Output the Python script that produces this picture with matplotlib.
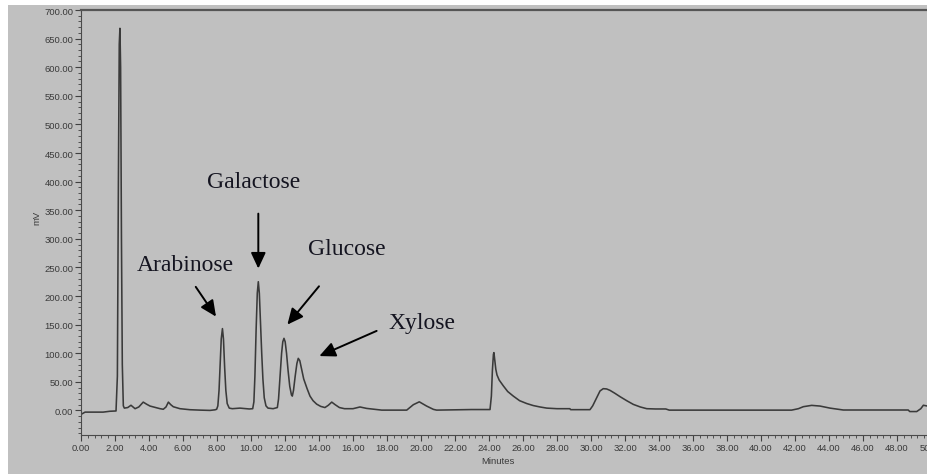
import matplotlib
matplotlib.use("Agg")
import matplotlib.pyplot as plt
from matplotlib.patches import Rectangle
from matplotlib.ticker import MultipleLocator, FormatStrFormatter

# ---- data (time in minutes, signal in mV) ----
time_min = [0.0, 0.24, 1.3, 1.7, 2.06, 2.14, 2.20, 2.25, 2.29, 2.33, 2.38, 2.43, 2.49, 2.55,
            2.75, 2.94, 3.18, 3.40, 3.66, 3.85, 4.06, 4.40, 4.65, 4.84, 5.00, 5.14, 5.28, 5.43,
            5.82, 6.41, 7.00, 7.59, 7.88, 7.98, 8.05, 8.12, 8.18, 8.25, 8.32, 8.38, 8.45, 8.52,
            8.60, 8.72, 8.90, 9.35, 9.90, 10.10, 10.17, 10.23, 10.30, 10.37, 10.43, 10.49,
            10.56, 10.63, 10.70, 10.78, 10.88, 11.00, 11.30, 11.55, 11.62, 11.71, 11.80, 11.87,
            11.94, 12.01, 12.09, 12.18, 12.28, 12.38, 12.43, 12.50, 12.60, 12.70, 12.78, 12.87,
            12.98, 13.10, 13.30, 13.47, 13.65, 13.86, 14.10, 14.35, 14.55, 14.75, 14.95, 15.20,
            15.50, 16.00, 16.41, 16.80, 17.69, 19.16, 19.55, 19.90, 20.33, 20.73, 20.92, 22.98,
            24.06, 24.14, 24.20, 24.26, 24.29, 24.34, 24.40, 24.47, 24.60, 24.84, 25.10, 25.43,
            25.80, 26.22, 26.60, 27.00, 27.40, 28.00, 28.76, 28.80, 29.94, 30.10, 30.33, 30.53,
            30.72, 30.92, 31.12, 31.40, 31.71, 32.10, 32.49, 32.90, 33.28, 33.80, 34.40, 34.60,
            41.80, 42.20, 42.49, 42.98, 43.47, 44.06, 44.84, 48.66, 48.75, 49.16, 49.40, 49.55,
            49.90]
signal_mv = [-7, -3, -3, -1.5, -1, 60, 400, 640, 668, 600, 300, 80, 8, 4,
             5, 9, 3, 6, 14.5, 11, 7.6, 5, 3, 2, 6, 14.5, 10, 6.4,
             3, 1.2, 0.5, 0, 1, 2, 8, 35, 75, 125, 143, 125, 75, 35,
             12, 4, 3, 4, 2.5, 3, 15, 60, 140, 205, 225, 205,
             150, 100, 55, 22, 8, 4, 3, 5, 20, 60, 100, 120,
             126, 120, 100, 70, 42, 27, 25, 35, 60, 82, 91, 87,
             72, 55, 38, 25, 17, 11, 7, 5, 9, 14.5, 10, 5,
             3, 3, 6, 3.5, 0.5, 0.5, 10, 15, 7.6, 1.8, 0.5, 1.5,
             1.5, 25, 70, 98, 101, 88, 72, 62, 53, 43, 33, 25,
             17, 12, 8.5, 6, 4, 3, 3, 1.3, 1.3, 8, 22, 34,
             38, 37.5, 35, 30, 24, 17, 10.5, 6, 3, 2.5, 2.5, 0.5,
             0.5, 3, 6.5, 8.8, 7.6, 4, 0.7, 0.7, -2, -2, 3, 9,
             7]

y_ticks = [0, 50, 100, 150, 200, 250, 300, 350, 400, 450, 500, 550, 600, 650, 700]
x_ticks = [0, 2, 4, 6, 8, 10, 12, 14, 16, 18, 20, 22, 24, 26, 28, 30, 32, 34, 36, 38,
           40, 42, 44, 46, 48, 50]

peak_names = ["Arabinose", "Galactose", "Glucose", "Xylose"]
label_pos = [(6.15, 245), (10.16, 390), (15.66, 274), (20.03, 144)]
arrow_tail = [(6.75, 216), (10.43, 344), (14.0, 217), (17.39, 139)]
arrow_tip = [(7.94, 164), (10.43, 248), (12.14, 150), (14.02, 95)]

# ---- figure ----
W, H = 927, 477
fig = plt.figure(figsize=(W / 100, H / 100), dpi=100, facecolor="white")
fig.patches.append(Rectangle((8 / W, 2 / H), 1.0, (475 - 6) / H, transform=fig.transFigure,
                             facecolor="#c0c0c0", edgecolor="none", zorder=-10))

ax = fig.add_axes([81 / W, (H - 436) / H, 867 / W, (436 - 11) / H])
ax.set_zorder(5)
ax.set_facecolor("#c0c0c0")
ax.plot(time_min, signal_mv, color="#3a3a3a", lw=1.15, solid_joinstyle="round")

ax.set_xlim(0, 51)
ax.set_ylim(-43, 700)
ax.set_xticks(x_ticks)
ax.set_yticks(y_ticks)
ax.xaxis.set_major_formatter(FormatStrFormatter("%.2f"))
ax.yaxis.set_major_formatter(FormatStrFormatter("%.2f"))
ax.xaxis.set_minor_locator(MultipleLocator(0.4))
ax.yaxis.set_minor_locator(MultipleLocator(10))

for lab in ax.get_xticklabels() + ax.get_yticklabels():
    lab.set_fontfamily(["Liberation Sans", "DejaVu Sans"])
    lab.set_fontsize(6.8)
    lab.set_color("#3a3a3a")
ax.tick_params(axis="both", which="major", direction="out", length=4, width=0.8,
               color="#404040", pad=1.5)
ax.tick_params(axis="both", which="minor", direction="out", length=2.2, width=0.7,
               color="#505050")

for side in ["left", "bottom"]:
    ax.spines[side].set_color("#4a4a4a")
    ax.spines[side].set_linewidth(0.8)
ax.spines["top"].set_color("#555555")
ax.spines["top"].set_linewidth(1.6)
ax.spines["right"].set_visible(False)

ax.set_xlabel("Minutes", fontsize=6.8, color="#3a3a3a", family=["Liberation Sans", "DejaVu Sans"])
ax.xaxis.label.set_va("center")
ax.xaxis.set_label_coords((498 - 81) / 867, -(462 - 436) / 425)
ax.set_ylabel("mV", fontsize=6.8, color="#3a3a3a", family=["Liberation Sans", "DejaVu Sans"])
ax.yaxis.label.set_va("center")
ax.yaxis.set_label_coords((37 - 81) / 867, (436 - 218) / 425)

for name, lp, tail, tip in zip(peak_names, label_pos, arrow_tail, arrow_tip):
    ax.text(lp[0], lp[1], name, ha="center", va="baseline", fontsize=17,
            family=["Liberation Serif", "DejaVu Serif"], color="#141420")
    ax.annotate("", xy=tip, xytext=tail,
                arrowprops=dict(arrowstyle="-|>,head_length=0.6,head_width=0.28",
                                mutation_scale=16, color="black", lw=1.4,
                                shrinkA=0, shrinkB=0))

fig.savefig("out.png", dpi=100, facecolor="white")
